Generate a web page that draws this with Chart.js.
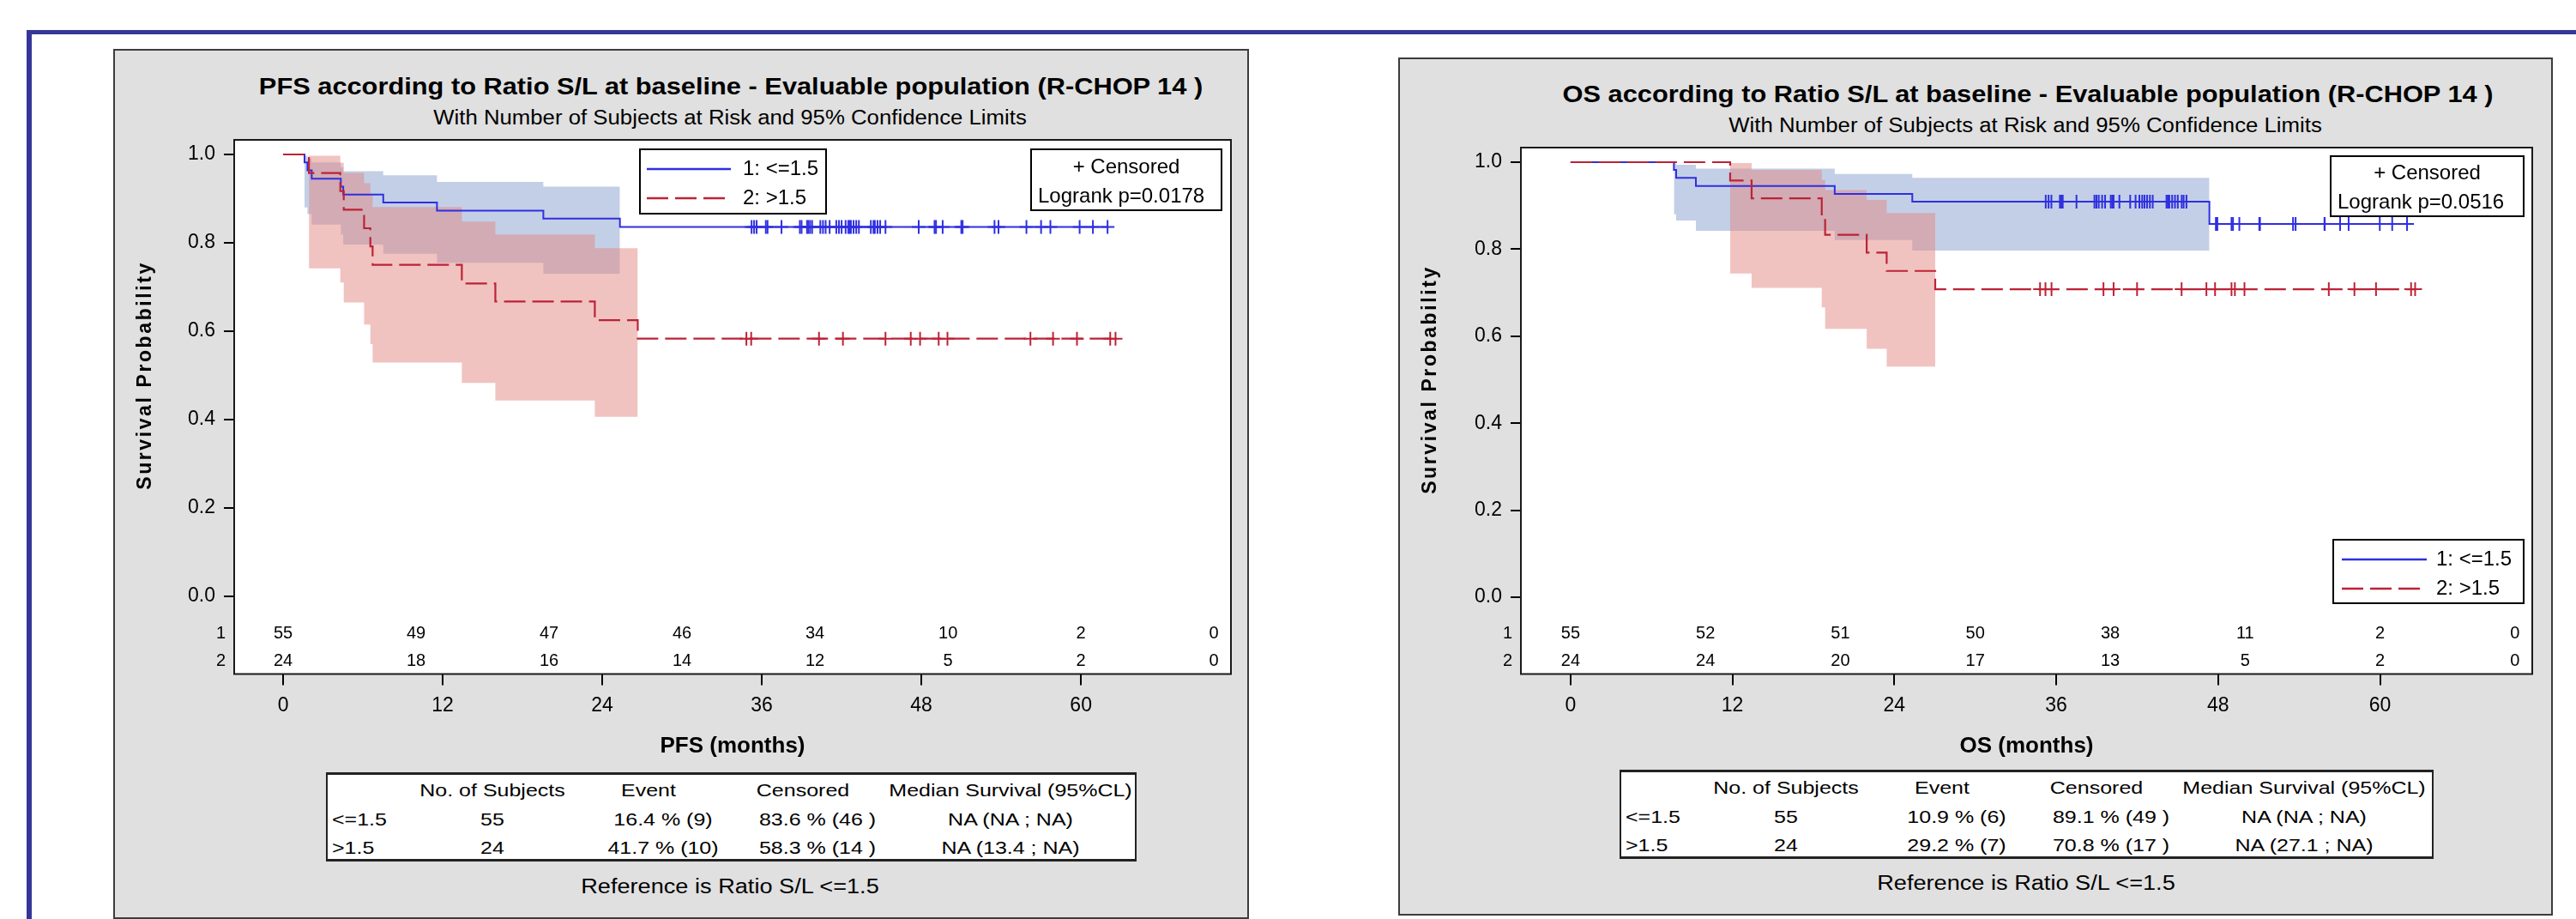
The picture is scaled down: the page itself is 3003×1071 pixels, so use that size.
<!DOCTYPE html>
<html>
<head>
<meta charset="utf-8">
<title>PFS / OS according to Ratio S/L</title>
<script src="https://cdn.jsdelivr.net/npm/chart.js@4.4.1/dist/chart.umd.min.js"></script>
<style>
  html, body { margin: 0; padding: 0; background: #fff; }
  body {
    width: 3003px; height: 1071px; position: relative; overflow: hidden;
    font-family: "Liberation Sans", Arial, Helvetica, sans-serif; color: #000;
  }
  .bar-top { position: absolute; left: 31px; top: 35px; width: 2972px; height: 5px; background: #35359a; }
  .bar-left { position: absolute; left: 31px; top: 35px; width: 6px; height: 1036px; background: #35359a; }
  .panel { position: absolute; box-sizing: border-box; background: #e0e0e0; border: 2px solid #3c3c3c; }
  .txt { position: absolute; white-space: nowrap; line-height: 1; }
  .title { font-size: 27px; font-weight: bold; transform: translate(-50%, -50%) scaleX(1.14); }
  .subtitle { font-size: 23px; transform: translate(-50%, -50%) scaleX(1.12); }
  .ref { font-size: 23px; transform: translate(-50%, -50%) scaleX(1.18); }
  .tbl { position: absolute; box-sizing: border-box; background: #fff;
         border-top: 3px solid #222; border-bottom: 3px solid #222;
         border-left: 2px solid #222; border-right: 2px solid #222; }
  .cell { position: absolute; white-space: nowrap; line-height: 1; font-size: 21px;
          transform: translate(-50%, -50%) scaleX(1.19); }
  .cell.left { transform-origin: 0 50%; transform: translate(0, -50%) scaleX(1.19); }
  canvas { position: absolute; }
</style>
</head>
<body>
<div class="bar-top"></div>
<div class="bar-left"></div>

<div class="panel" style="left:132px; top:57px; width:1324px; height:1014px;"></div>
<div class="panel" style="left:1630px; top:67px; width:1346px; height:1000px;"></div>

<div class="txt title" style="left:852px; top:101px;">PFS according to Ratio S/L at baseline - Evaluable population (R-CHOP 14 )</div>
<div class="txt subtitle" style="left:851px; top:137px;">With Number of Subjects at Risk and 95% Confidence Limits</div>
<div class="txt title" style="left:2364px; top:110px;">OS according to Ratio S/L at baseline - Evaluable population (R-CHOP 14 )</div>
<div class="txt subtitle" style="left:2361px; top:146px;">With Number of Subjects at Risk and 95% Confidence Limits</div>

<canvas id="pfsChart" width="1310" height="745" style="left:140px; top:150px;"></canvas>
<canvas id="osChart" width="1328" height="735" style="left:1638px; top:160px;"></canvas>

<div class="tbl" id="pfsTable" style="left:380px; top:900px; width:945px; height:104px;"></div>
<div class="tbl" id="osTable" style="left:1888px; top:897px; width:949px; height:104px;"></div>

<div class="txt ref" style="left:851px; top:1033px;">Reference is Ratio S/L &lt;=1.5</div>
<div class="txt ref" style="left:2362px; top:1029px;">Reference is Ratio S/L &lt;=1.5</div>

<script>
// ---------------------------------------------------------------
// Kaplan-Meier curves (months, survival prob.)
// ---------------------------------------------------------------

const xTickValues = [0, 12, 24, 36, 48, 60];
const yTickValues = [0, 0.2, 0.4, 0.6, 0.8, 1.0];

// number of subjects at risk
const riskTimes = [0, 10, 20, 30, 40, 50, 60, 70];
const pfsRisk1 = [55, 49, 47, 46, 34, 10, 2, 0];
const pfsRisk2 = [24, 18, 16, 14, 12, 5, 2, 0];
const osRisk1 = [55, 52, 51, 50, 38, 11, 2, 0];
const osRisk2 = [24, 24, 20, 17, 13, 5, 2, 0];

// PFS, group 1 (<=1.5)
const pfsEvents1 = [1.61, 1.83, 2.15, 4.34, 4.52, 7.53, 11.57, 19.57, 25.33];
const pfsSurv1 = [0.982, 0.964, 0.945, 0.927, 0.909, 0.891, 0.873, 0.855, 0.836];
const pfsUpper1 = [0.997, 0.991, 0.982, 0.971, 0.962, 0.953, 0.938, 0.927];
const pfsLower1 = [0.880, 0.865, 0.841, 0.819, 0.796, 0.775, 0.755, 0.730];
const pfsCensor1 = [35.23, 35.42, 35.61, 36.30, 36.43, 37.48, 38.86, 38.99, 39.40, 39.50, 39.63, 39.78,
  40.4, 40.6, 40.8, 41.1, 41.6, 41.8, 42.0, 42.3, 42.5, 42.6, 42.7, 42.9, 43.1, 43.3,
  44.2, 44.4, 44.5, 44.7, 44.9, 45.3, 47.8, 48.99, 49.1, 49.6,
  51.0, 51.1, 53.5, 53.8, 55.9, 57.0, 57.7, 59.9, 60.9, 62.0];

// PFS, group 2 (>1.5)
const pfsEvents2 = [1.94, 4.30, 4.56, 6.09, 6.56, 6.73, 13.44, 15.96, 23.44, 26.67];
const pfsSurv2 = [0.958, 0.917, 0.875, 0.833, 0.792, 0.750, 0.708, 0.667, 0.625, 0.583];
const pfsUpper2 = [0.997, 0.981, 0.958, 0.935, 0.910, 0.881, 0.848, 0.819, 0.788];
const pfsLower2 = [0.742, 0.710, 0.665, 0.615, 0.571, 0.529, 0.483, 0.443, 0.406];
const pfsCensor2 = [34.84, 35.2, 40.3, 42.1, 45.3, 47.2, 47.9, 49.3, 49.96, 56.2, 57.9, 59.7, 62.2, 62.6];

// OS, group 1 (<=1.5)
const osEvents1 = [7.66, 7.83, 9.29, 19.58, 25.33, 47.35];
const osSurv1 = [0.982, 0.964, 0.945, 0.927, 0.909, 0.858];
const osUpper1 = [0.997, 0.994, 0.985, 0.973, 0.964];
const osLower1 = [0.880, 0.866, 0.842, 0.821, 0.797];
const osCensor1 = [35.22, 35.43, 35.64, 36.27, 36.38, 36.48, 37.50, 38.83, 38.98, 39.15, 39.40, 39.62,
  40.04, 40.15, 40.25, 40.68, 41.48, 41.88, 42.16, 42.37, 42.54, 42.73, 42.94, 43.15,
  44.17, 44.27, 44.38, 44.59, 44.80, 45.01, 45.3, 45.44, 45.65, 47.83, 47.94, 48.99, 49.1, 49.57,
  51.05, 51.1, 53.55, 53.74, 55.88, 55.9, 57.04, 57.67, 59.98, 60.9, 62.0];

// OS, group 2 (>1.5)
const osEvents2 = [11.83, 13.42, 18.62, 18.87, 21.95, 23.43, 27.03];
const osSurv2 = [0.958, 0.917, 0.875, 0.833, 0.792, 0.750, 0.708];
const osUpper2 = [0.998, 0.982, 0.959, 0.936, 0.913, 0.883];
const osLower2 = [0.744, 0.711, 0.666, 0.617, 0.571, 0.530];
const osCensor2 = [34.8, 35.2, 35.65, 39.5, 40.25, 41.99, 45.29, 47.13, 47.77, 48.99, 49.24, 49.95,
  56.2, 58.1, 59.7, 62.3, 62.6];

// summary tables
const tableHeader = ["No. of Subjects", "Event", "Censored", "Median Survival (95%CL)"];
const pfsTableRow1 = ["<=1.5", "55", "16.4 % (9)", "83.6 % (46 )", "NA (NA ; NA)"];
const pfsTableRow2 = [">1.5", "24", "41.7 % (10)", "58.3 % (14 )", "NA (13.4 ; NA)"];
const osTableRow1 = ["<=1.5", "55", "10.9 % (6)", "89.1 % (49 )", "NA (NA ; NA)"];
const osTableRow2 = [">1.5", "24", "29.2 % (7)", "70.8 % (17 )", "NA (27.1 ; NA)"];

const groupLabels = ["1: <=1.5", "2: >1.5"];

// ---------------------------------------------------------------

const FONT = "'Liberation Sans', Arial, Helvetica, sans-serif";
const BLUE = "#2f2fe0";
const RED = "#bd2236";
const BLUE_BAND = "rgba(135, 159, 205, 0.5)";
const RED_BAND = "rgba(225, 135, 129, 0.5)";

Chart.defaults.font.family = FONT;
Chart.defaults.color = "#000";

// step curve: starts at 1 and ends at the last censored time
function kmPoints(times, surv, censor) {
  const pts = [{ x: 0, y: 1 }];
  times.forEach((t, i) => pts.push({ x: t, y: surv[i] }));
  pts.push({ x: Math.max(...censor), y: surv[surv.length - 1] });
  return pts;
}

// confidence band: one value per interval between event times
function bandPoints(times, vals) {
  const pts = vals.map((v, i) => ({ x: times[i], y: v }));
  pts.push({ x: times[vals.length], y: vals[vals.length - 1] });
  return pts;
}

function survAt(times, surv, t) {
  let s = 1;
  times.forEach((et, i) => { if (et <= t) s = surv[i]; });
  return s;
}

function censorPoints(censor, times, surv) {
  return censor.map(t => ({ x: t, y: survAt(times, surv, t) }));
}

// extra drawing: plot frame, at-risk numbers, y title, legend boxes
const kmDecor = {
  id: "kmDecor",
  beforeDraw(chart) {
    const { ctx, chartArea: a } = chart;
    ctx.save();
    ctx.fillStyle = "#fff";
    ctx.fillRect(a.left, a.top, a.right - a.left, a.bottom - a.top);
    ctx.restore();
  },
  afterDraw(chart, args, opts) {
    const { ctx, chartArea: a } = chart;
    const x = chart.scales.x;
    const y = chart.scales.y;
    ctx.save();

    // frame
    ctx.strokeStyle = "#1a1a1a";
    ctx.lineWidth = 2;
    ctx.strokeRect(a.left, a.top, a.right - a.left, a.bottom - a.top);

    // at-risk rows
    ctx.fillStyle = "#000";
    ctx.textBaseline = "middle";
    ctx.font = "20px " + FONT;
    opts.riskRows.forEach((row, r) => {
      const py = a.bottom - opts.riskOffsets[r];
      ctx.textAlign = "center";
      row.forEach((n, i) => ctx.fillText(String(n), x.getPixelForValue(riskTimes[i]), py));
      ctx.textAlign = "right";
      ctx.fillText(String(r + 1), a.left - 10, py);
    });

    // y axis title, centred on the 0..1 range
    ctx.save();
    ctx.translate(opts.yTitleX, (y.getPixelForValue(0) + y.getPixelForValue(1)) / 2);
    ctx.rotate(-Math.PI / 2);
    ctx.font = "bold 23px " + FONT;
    ctx.letterSpacing = "2.6px";
    ctx.textAlign = "center";
    ctx.fillText("Survival Probability", 0, 0);
    ctx.restore();

    ctx.font = "24px " + FONT;

    // group legend
    const lg = opts.legendBox;
    const lx = a.left + lg.x, ly = a.top + lg.y;
    ctx.fillStyle = "#fff";
    ctx.fillRect(lx, ly, lg.w, lg.h);
    ctx.strokeStyle = "#000";
    ctx.lineWidth = 2;
    ctx.strokeRect(lx, ly, lg.w, lg.h);
    lg.rows.forEach(row => {
      const ds = chart.data.datasets[row.ds];
      ctx.save();
      ctx.strokeStyle = ds.borderColor;
      ctx.lineWidth = 2.5;
      ctx.setLineDash(ds.borderDash || []);
      ctx.beginPath();
      ctx.moveTo(lx + lg.x0, ly + row.y);
      ctx.lineTo(lx + lg.x1, ly + row.y);
      ctx.stroke();
      ctx.restore();
      ctx.fillStyle = "#000";
      ctx.textAlign = "left";
      ctx.fillText(ds.label, lx + lg.tx, ly + row.y);
    });

    // censored / logrank box
    const cb = opts.censorBox;
    const cx = a.left + cb.x, cy = a.top + cb.y;
    ctx.fillStyle = "#fff";
    ctx.fillRect(cx, cy, cb.w, cb.h);
    ctx.strokeStyle = "#000";
    ctx.lineWidth = 2;
    ctx.strokeRect(cx, cy, cb.w, cb.h);
    ctx.fillStyle = "#000";
    ctx.textAlign = "center";
    ctx.fillText("+ Censored", cx + cb.w / 2, cy + cb.y1);
    ctx.textAlign = "left";
    ctx.fillText(cb.text2, cx + cb.tx, cy + cb.y2);

    ctx.restore();
  }
};

function makeKM(canvasId, d) {
  const datasets = [
    { label: "band1 upper", data: bandPoints(d.events1, d.upper1), stepped: true, fill: false,
      borderColor: "rgba(0,0,0,0)", borderWidth: 0, pointRadius: 0, order: 40 },
    { label: "band1 lower", data: bandPoints(d.events1, d.lower1), stepped: true, fill: "-1",
      backgroundColor: BLUE_BAND, borderColor: "rgba(0,0,0,0)", borderWidth: 0, pointRadius: 0, order: 39 },
    { label: "band2 upper", data: bandPoints(d.events2, d.upper2), stepped: true, fill: false,
      borderColor: "rgba(0,0,0,0)", borderWidth: 0, pointRadius: 0, order: 30 },
    { label: "band2 lower", data: bandPoints(d.events2, d.lower2), stepped: true, fill: "-1",
      backgroundColor: RED_BAND, borderColor: "rgba(0,0,0,0)", borderWidth: 0, pointRadius: 0, order: 29 },
    { label: groupLabels[0], data: kmPoints(d.events1, d.surv1, d.censor1), stepped: true, fill: false,
      borderColor: BLUE, borderWidth: 2, pointRadius: 0, order: 20 },
    { label: "censored 1", data: censorPoints(d.censor1, d.events1, d.surv1), showLine: false,
      pointStyle: "cross", pointRadius: 8, pointBorderColor: BLUE, pointBorderWidth: 2, order: 19 },
    { label: groupLabels[1], data: kmPoints(d.events2, d.surv2, d.censor2), stepped: true, fill: false,
      borderColor: RED, borderWidth: 2.2, borderDash: [25, 8], pointRadius: 0, order: 10 },
    { label: "censored 2", data: censorPoints(d.censor2, d.events2, d.surv2), showLine: false,
      pointStyle: "cross", pointRadius: 8, pointBorderColor: RED, pointBorderWidth: 2, order: 9 }
  ];

  return new Chart(document.getElementById(canvasId), {
    type: "line",
    data: { datasets },
    plugins: [kmDecor],
    options: {
      responsive: false,
      animation: false,
      devicePixelRatio: 1,
      events: [],
      layout: { padding: d.padding },
      scales: {
        x: {
          type: "linear", min: -3.68, max: 71.28,
          afterBuildTicks: s => { s.ticks = xTickValues.map(v => ({ value: v })); },
          ticks: { autoSkip: false, maxRotation: 0, padding: 10.7, color: "#000",
                   font: { size: 23 }, callback: v => String(v) },
          grid: { display: true, drawOnChartArea: false, drawTicks: true, tickLength: 13,
                  color: "#000", lineWidth: 2 },
          border: { display: false },
          title: { display: true, text: d.xTitle, color: "#000",
                   font: { size: 26, weight: "bold" }, padding: { top: 0, bottom: 9.4 } },
          afterFit: s => { s.height = 109.5; s.paddingLeft = 0; s.paddingRight = 0; }
        },
        y: {
          type: "linear", min: d.yMin, max: d.yMax,
          afterBuildTicks: s => { s.ticks = yTickValues.map(v => ({ value: v })); },
          ticks: { autoSkip: false, padding: 10, color: "#000", font: { size: 23 },
                   callback: v => v.toFixed(1) },
          grid: { display: true, drawOnChartArea: false, drawTicks: true, tickLength: 12,
                  color: "#000", lineWidth: 2 },
          border: { display: false },
          afterFit: s => { s.width = d.yWidth; s.paddingTop = 0; s.paddingBottom = 0; }
        }
      },
      plugins: {
        legend: { display: false },
        tooltip: { enabled: false },
        kmDecor: {
          riskRows: d.riskRows,
          riskOffsets: [47.5, 15.5],
          yTitleX: 30,
          legendBox: d.legendBox,
          censorBox: d.censorBox
        }
      }
    }
  });
}

makeKM("pfsChart", {
  events1: pfsEvents1, surv1: pfsSurv1, upper1: pfsUpper1, lower1: pfsLower1, censor1: pfsCensor1,
  events2: pfsEvents2, surv2: pfsSurv2, upper2: pfsUpper2, lower2: pfsLower2, censor2: pfsCensor2,
  riskRows: [pfsRisk1, pfsRisk2],
  xTitle: "PFS (months)",
  yMin: -0.176, yMax: 1.033, yWidth: 133,
  padding: { top: 13, right: 15, bottom: 0, left: 0 },
  legendBox: { x: 473, y: 11, w: 217, h: 75, x0: 8, x1: 106, tx: 120,
               rows: [{ ds: 4, y: 23 }, { ds: 6, y: 57 }] },
  censorBox: { x: 929, y: 11, w: 222, h: 71, y1: 21, y2: 55, tx: 8, text2: "Logrank p=0.0178" }
});

makeKM("osChart", {
  events1: osEvents1, surv1: osSurv1, upper1: osUpper1, lower1: osLower1, censor1: osCensor1,
  events2: osEvents2, surv2: osSurv2, upper2: osUpper2, lower2: osLower2, censor2: osCensor2,
  riskRows: [osRisk1, osRisk2],
  xTitle: "OS (months)",
  yMin: -0.1765, yMax: 1.0335, yWidth: 135,
  padding: { top: 12, right: 14, bottom: 0, left: 0 },
  legendBox: { x: 947, y: 457, w: 222, h: 74, x0: 10, x1: 109, tx: 120,
               rows: [{ ds: 4, y: 23 }, { ds: 6, y: 57 }] },
  censorBox: { x: 944, y: 10, w: 225, h: 70, y1: 20, y2: 54, tx: 8, text2: "Logrank p=0.0516" }
});

// summary tables under each plot
function addCell(box, text, x, y, alignLeft) {
  const el = document.createElement("div");
  el.className = alignLeft ? "cell left" : "cell";
  el.style.left = x + "px";
  el.style.top = y + "px";
  el.textContent = text;
  box.appendChild(el);
}

function buildTable(boxId, rows) {
  const box = document.getElementById(boxId);
  const headX = [192, 374, 554, 796];
  const dataX = [5, 192, 391, 571, 796];
  const rowY = [16.5, 51, 84];
  tableHeader.forEach((h, c) => addCell(box, h, headX[c], rowY[0], false));
  rows.forEach((row, r) => {
    row.forEach((v, c) => addCell(box, v, dataX[c], rowY[r + 1], c === 0));
  });
}

buildTable("pfsTable", [pfsTableRow1, pfsTableRow2]);
buildTable("osTable", [osTableRow1, osTableRow2]);
</script>
</body>
</html>
